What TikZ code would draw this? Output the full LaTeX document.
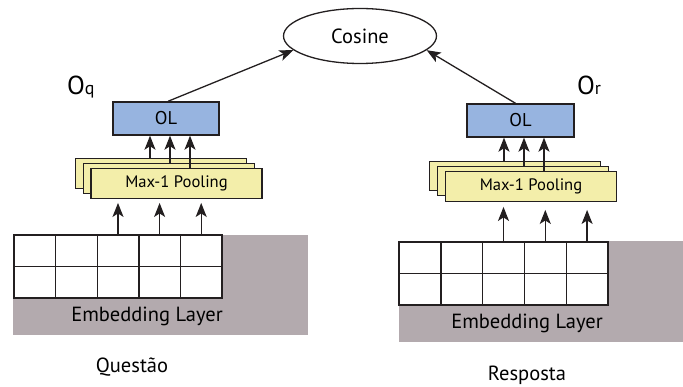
\documentclass[tikz,border=0pt]{standalone}
\usepackage{fontspec}
\setmainfont{PT Sans}
\usetikzlibrary{shapes.geometric,arrows.meta,calc}
\definecolor{olblue}{HTML}{97B4E0}
\definecolor{poolyel}{HTML}{F3EEAA}
\definecolor{embgray}{HTML}{B3AAAE}
\definecolor{ink}{HTML}{231F20}
\begin{document}
\begin{tikzpicture}[x=1pt,y=-1pt,
  fs/.style={font=\fontsize{#1}{#1}\selectfont},
  box/.style={draw=ink,line width=1.4pt,inner sep=0pt},
  olbox/.style={box,fill=olblue,minimum width=106pt,minimum height=33pt,fs=18.5},
  poolbox/.style={box,fill=poolyel,minimum width=171pt,minimum height=29.5pt,fs=16.6},
  cellq/.style={draw=ink,line width=1.4pt,fill=white,minimum width=41.6pt,minimum height=31.5pt,inner sep=0pt},
  cellr/.style={cellq,minimum width=41.8pt},
  graybg/.style={fill=embgray,inner sep=0pt},
  arr/.style={draw=ink,line width=1.3pt,-{Stealth[length=14pt,width=11pt,inset=3.5pt]}},
  lbl/.style={fs=20.5,inner sep=0pt},
]
\useasboundingbox (0,0) rectangle (683,387);

% similarity node
\node[ellipse,draw=ink,line width=1.3pt,minimum width=153pt,minimum height=55pt,inner sep=0pt,fs=20.5] (cosine) at (360,36) {Cosine};

% output layers
\node[olbox] (olq) at (166,118.5) {OL};
\node[olbox,minimum width=107pt] (olr) at (520.5,120.5) {OL};
\node[anchor=base west,inner sep=0pt,fs=26] (oq) at (67,95) {O\fontsize{18}{18}\selectfont q};
\node[anchor=base west,inner sep=0pt,fs=26] (or) at (577,95) {O\fontsize{18}{18}\selectfont r};

% stacked pooling maps
\node[poolbox] (pqa) at (161,173.5) {};
\node[poolbox] (pqb) at (169,178.5) {};
\node[poolbox] (pqc) at (176.5,183.5) {Max-1 Pooling};
\node[poolbox] (pra) at (515,176) {};
\node[poolbox] (prb) at (523,181) {};
\node[poolbox] (prc) at (531,186.5) {Max-1 Pooling};

% embedding layers
\node[graybg,minimum width=295pt,minimum height=100pt] (embq) at (160.5,285) {};
\node[graybg,minimum width=284pt,minimum height=101pt] (embr) at (541,291.5) {};
\foreach \i in {0,...,4}{
  \foreach \j in {0,1}{
    \node[cellq] (q\i\j) at ({14+41.6*(\i+0.5)},{235+31.5*(\j+0.5)}) {};
    \node[cellr] (r\i\j) at ({399+41.8*(\i+0.5)},{242+31.5*(\j+0.5)}) {};
  }
}
\node[lbl] (embqtxt) at (147,316) {Embedding Layer};
\node[lbl] (embrtxt) at (527,323) {Embedding Layer};
\node[lbl] (qlabel) at (132,367) {Questão};
\node[lbl] (rlabel) at (527,375) {Resposta};

% embedding -> pooling
\draw[arr,shorten >=4pt] (q20.north) -- (q20.north |- pqc.south);
\draw[arr,shorten >=4pt] (q30.north) -- (q30.north |- pqc.south);
\draw[arr,shorten >=4pt] (q40.north) -- (q40.north |- pqc.south);
\draw[arr,shorten >=5pt] (r20.north) -- (r20.north |- prc.south);
\draw[arr,shorten >=8pt] (r30.north) -- (r30.north |- prc.south);
\draw[arr,shorten >=8pt] (r40.north) -- (r40.north |- prc.south);

% pooling -> output layer
\coordinate (aq1) at (150,0);
\coordinate (aq2) at (170,0);
\coordinate (aq3) at (190,0);
\coordinate (ar1) at (504,0);
\coordinate (ar2) at (524,0);
\coordinate (ar3) at (544,0);
\draw[arr] (pqa.north -| aq1) -- (olq.south -| aq1);
\draw[arr] (pqb.north -| aq2) -- (olq.south -| aq2);
\draw[arr] (pqc.north -| aq3) -- (olq.south -| aq3);
\draw[arr] (pra.north -| ar1) -- (olr.south -| ar1);
\draw[arr] (prb.north -| ar2) -- (olr.south -| ar2);
\draw[arr] (prc.north -| ar3) -- (olr.south -| ar3);

% output layers -> cosine
\draw[arr] ($(olq.north)+(2,0)$) -- (cosine.192);
\draw[arr] ($(olr.north)+(-5,0)$) -- (cosine.348);
\end{tikzpicture}
\end{document}
